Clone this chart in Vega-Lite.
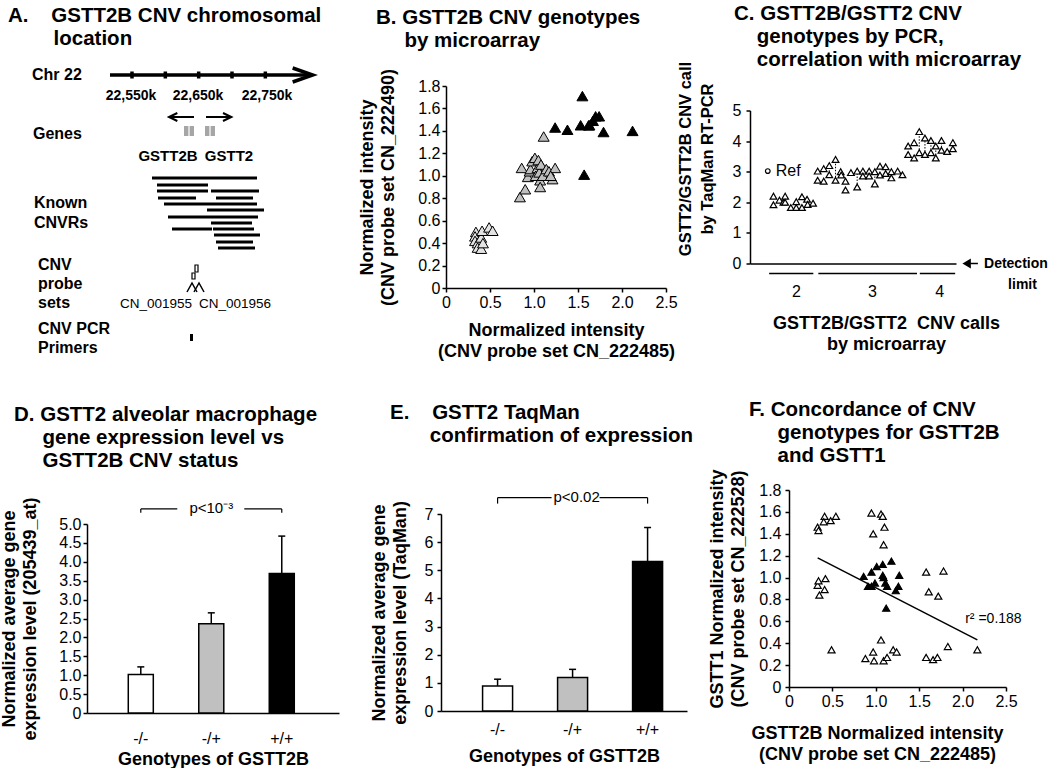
{
"$schema":"https://vega.github.io/schema/vega-lite/v6.json",
"background":"white",
"padding":{"left":0,"top":4,"right":0,"bottom":0},
"config":{
 "font":"Liberation Sans",
 "view":{"stroke":null},
 "axis":{"grid":false,"domainColor":"black","domainWidth":1.5,"tickColor":"black","tickWidth":1.5,"tickSize":4,"labelColor":"black","labelFont":"Liberation Sans","labelFontSize":16,"labelFlush":false,"labelOverlap":false,"titleColor":"black","titleFont":"Liberation Sans","titleFontSize":18,"titleFontWeight":"bold","titleLineHeight":21},
 "title":{"font":"Liberation Sans","fontSize":20.5,"fontWeight":"bold","lineHeight":23,"anchor":"start","frame":"group","color":"black"},
 "text":{"font":"Liberation Sans","color":"black"}
},
"datasets":{
 "aLab":[{"kb":22400,"y":1.4,"t":"Chr 22"},{"kb":22401.5,"y":7.3,"t":"Genes"},{"kb":22403,"y":14.2,"t":"Known"},{"kb":22403,"y":16.2,"t":"CNVRs"},{"kb":22409,"y":20.4,"t":"CNV"},{"kb":22409,"y":22.3,"t":"probe"},{"kb":22409,"y":24.2,"t":"sets"},{"kb":22409,"y":26.8,"t":"CNV PCR"},{"kb":22409,"y":28.7,"t":"Primers"}],
 "aCoord":[{"kb":22548.5,"y":3.5,"t":"22,550k"},{"kb":22649,"y":3.5,"t":"22,650k"},{"kb":22752.5,"y":3.5,"t":"22,750k"}],
 "aGene":[{"kb":22604,"y":9.5,"t":"GSTT2B"},{"kb":22695.5,"y":9.5,"t":"GSTT2"}],
 "aProbe":[{"kb":22532,"y":24.3,"t":"CN_001955"},{"kb":22650.5,"y":24.3,"t":"CN_001956"}],
 "aPath":[
  {"part":"chr","id":"shaft","o":1,"kb":22517,"y":1.4},{"part":"chr","id":"shaft","o":2,"kb":22818,"y":1.4},
  {"part":"chr","id":"head","o":1,"kb":22791,"y":0.7},{"part":"chr","id":"head","o":2,"kb":22821,"y":1.4},{"part":"chr","id":"head","o":3,"kb":22791,"y":2.1},
  {"part":"arrow","id":"L","o":1,"kb":22643,"y":5.6},{"part":"arrow","id":"L","o":2,"kb":22606,"y":5.6},
  {"part":"arrow","id":"Lh","o":1,"kb":22618,"y":5.2},{"part":"arrow","id":"Lh","o":2,"kb":22605.5,"y":5.6},{"part":"arrow","id":"Lh","o":3,"kb":22618,"y":6.0},
  {"part":"arrow","id":"R","o":1,"kb":22661,"y":5.6},{"part":"arrow","id":"R","o":2,"kb":22698,"y":5.6},
  {"part":"arrow","id":"Rh","o":1,"kb":22686.5,"y":5.2},{"part":"arrow","id":"Rh","o":2,"kb":22699,"y":5.6},{"part":"arrow","id":"Rh","o":3,"kb":22686.5,"y":6.0},
  {"part":"glyph","id":"g1","o":1,"kb":22632.5,"y":23.1},{"part":"glyph","id":"g1","o":2,"kb":22640,"y":22.2},{"part":"glyph","id":"g1","o":3,"kb":22647.5,"y":23.1},
  {"part":"glyph","id":"g2","o":1,"kb":22643,"y":23.1},{"part":"glyph","id":"g2","o":2,"kb":22650.5,"y":22.2},{"part":"glyph","id":"g2","o":3,"kb":22658,"y":23.1}
 ],
 "aTick":[{"kb":22550,"y":1.05,"y2":1.75},{"kb":22600,"y":1.05,"y2":1.75},{"kb":22650,"y":1.05,"y2":1.75},{"kb":22700,"y":1.05,"y2":1.75},{"kb":22750,"y":1.05,"y2":1.75}],
 "aCnvr":[
  {"kb":22580,"kb2":22737.5,"y":11.7},
  {"kb":22587.5,"kb2":22664,"y":12.4},
  {"kb":22587.5,"kb2":22664,"y":13.0},{"kb":22668.5,"kb2":22740.5,"y":13.0},
  {"kb":22589,"kb2":22646,"y":13.7},{"kb":22676,"kb2":22731.5,"y":13.7},
  {"kb":22598,"kb2":22737.5,"y":14.3},
  {"kb":22662.5,"kb2":22748,"y":14.9},
  {"kb":22604,"kb2":22739,"y":15.6},
  {"kb":22668.5,"kb2":22730,"y":16.2},
  {"kb":22610,"kb2":22670,"y":16.8},{"kb":22671.5,"kb2":22733,"y":16.8},
  {"kb":22673,"kb2":22742,"y":17.4},
  {"kb":22676,"kb2":22731.5,"y":18.1},
  {"kb":22679,"kb2":22734.5,"y":18.7}
 ],
 "aBox":[
  {"kind":"gene","kb":22628,"kb2":22643,"y":6.5,"y2":7.5},{"kind":"gene","kb":22659.5,"kb2":22674.5,"y":6.5,"y2":7.5},
  {"kind":"probe","kb":22644.5,"kb2":22649,"y":20.4,"y2":21.1},{"kind":"probe","kb":22640,"kb2":22644.5,"y":21.2,"y2":21.8},
  {"kind":"primer","kb":22637,"kb2":22641.5,"y":27.3,"y2":28.0}
 ],
 "aStripe":[{"kb":22635.5,"y":6.5,"y2":7.5},{"kb":22667,"y":6.5,"y2":7.5}],
 "bPts":[
  {"x":0.34,"y":0.50,"g":"low"},{"x":0.33,"y":0.46,"g":"low"},{"x":0.33,"y":0.42,"g":"low"},{"x":0.36,"y":0.40,"g":"low"},{"x":0.40,"y":0.45,"g":"low"},{"x":0.41,"y":0.51,"g":"low"},{"x":0.36,"y":0.36,"g":"low"},{"x":0.40,"y":0.35,"g":"low"},{"x":0.42,"y":0.40,"g":"low"},{"x":0.49,"y":0.54,"g":"low"},{"x":0.53,"y":0.51,"g":"low"},
  {"x":0.84,"y":0.81,"g":"mid"},{"x":0.90,"y":0.88,"g":"mid"},{"x":0.86,"y":1.07,"g":"mid"},{"x":0.93,"y":0.99,"g":"mid"},{"x":0.95,"y":1.04,"g":"mid"},{"x":0.96,"y":1.06,"g":"mid"},{"x":0.98,"y":1.13,"g":"mid"},{"x":1.01,"y":1.16,"g":"mid"},{"x":1.04,"y":1.07,"g":"mid"},{"x":1.05,"y":1.14,"g":"mid"},{"x":1.02,"y":1.00,"g":"mid"},{"x":1.06,"y":1.03,"g":"mid"},{"x":1.07,"y":0.96,"g":"mid"},{"x":1.07,"y":0.90,"g":"mid"},{"x":1.08,"y":1.10,"g":"mid"},{"x":1.10,"y":1.00,"g":"mid"},{"x":1.14,"y":1.06,"g":"mid"},{"x":1.17,"y":1.04,"g":"mid"},{"x":1.21,"y":0.97,"g":"mid"},{"x":1.24,"y":1.07,"g":"mid"},{"x":1.19,"y":1.00,"g":"mid"},{"x":1.11,"y":1.35,"g":"mid"},
  {"x":1.24,"y":1.43,"g":"high"},{"x":1.38,"y":1.41,"g":"high"},{"x":1.55,"y":1.71,"g":"high"},{"x":1.53,"y":1.45,"g":"high"},{"x":1.62,"y":1.45,"g":"high"},{"x":1.67,"y":1.49,"g":"high"},{"x":1.70,"y":1.53,"g":"high"},{"x":1.74,"y":1.53,"g":"high"},{"x":1.79,"y":1.39,"g":"high"},{"x":2.12,"y":1.40,"g":"high"},{"x":1.57,"y":1.01,"g":"high"},{"x":1.63,"y":1.45,"g":"high"}
 ],
 "cPts":[
  {"i":1.0,"y":2.2},{"i":1.0,"y":1.92},{"i":2.05,"y":2.07},{"i":2.75,"y":2.0},{"i":3.05,"y":2.2},{"i":3.05,"y":2.0},{"i":4.05,"y":1.83},{"i":5.0,"y":2.02},{"i":5.0,"y":1.83},{"i":6.0,"y":2.18},{"i":6.0,"y":1.83},{"i":6.9,"y":2.1},{"i":7.0,"y":1.93},{"i":7.95,"y":1.97},
  {"i":8.76,"y":3.02},{"i":8.76,"y":2.72},{"i":9.82,"y":3.1},{"i":9.82,"y":2.69},{"i":10.8,"y":3.2},{"i":10.8,"y":2.9},{"i":11.9,"y":3.4},{"i":11.9,"y":2.72},{"i":12.8,"y":3.0},{"i":12.9,"y":2.89},{"i":13.65,"y":2.69},{"i":13.65,"y":2.4},{"i":14.6,"y":2.97},{"i":15.7,"y":3.02},{"i":15.7,"y":2.5},{"i":16.7,"y":3.02},{"i":16.7,"y":2.86},{"i":17.8,"y":3.02},{"i":17.8,"y":2.86},{"i":18.8,"y":3.0},{"i":18.8,"y":2.6},{"i":19.7,"y":3.18},{"i":19.7,"y":2.89},{"i":20.7,"y":3.16},{"i":20.7,"y":2.94},{"i":21.7,"y":3.0},{"i":21.7,"y":2.8},{"i":22.8,"y":3.02},{"i":23.65,"y":2.9},
  {"i":24.65,"y":3.84},{"i":24.65,"y":3.56},{"i":25.7,"y":3.95},{"i":25.7,"y":3.45},{"i":26.6,"y":4.31},{"i":26.6,"y":3.62},{"i":27.6,"y":4.1},{"i":27.6,"y":3.56},{"i":28.65,"y":4.02},{"i":28.65,"y":3.62},{"i":29.5,"y":3.84},{"i":29.5,"y":3.45},{"i":30.5,"y":4.02},{"i":30.5,"y":3.7},{"i":31.5,"y":3.66},{"i":32.5,"y":3.95},{"i":32.5,"y":3.75}
 ],
 "cRef":[{"i":0,"y":3.02}],
 "cRefT":[{"i":1.4,"y":3.02,"t":"Ref"}],
 "cDots":[{"i":3.05,"y":2.0,"y2":2.2},{"i":10.8,"y":2.9,"y2":3.2},{"i":11.9,"y":2.72,"y2":3.4},{"i":12.85,"y":2.89,"y2":3.0},{"i":15.7,"y":2.5,"y2":3.02},{"i":18.8,"y":2.6,"y2":3.0},{"i":26.6,"y":3.62,"y2":4.31},{"i":27.6,"y":3.56,"y2":4.1},{"i":28.65,"y":3.62,"y2":4.02},{"i":29.5,"y":3.45,"y2":3.84},{"i":30.5,"y":3.7,"y2":4.02},{"i":32.5,"y":3.75,"y2":3.95}],
 "cUnder":[{"i":0.24,"i2":8.0,"y":-0.33},{"i":8.88,"i2":26.2,"y":-0.33},{"i":26.7,"i2":32.9,"y":-0.33}],
 "cArrow":[{"i":35.3,"i2":36.9,"y":0}],
 "cArrowHead":[{"i":35.0,"y":0}],
 "cDet":[{"i":37.97,"y":0,"t":"Detection"},{"i":42.2,"y":-0.69,"t":"limit"}],
 "dBars":[{"g":"-/-","v":1.02,"hi":1.22},{"g":"-/+","v":2.36,"hi":2.65},{"g":"+/+","v":3.69,"hi":4.68}],
 "dCaps":[{"g":"-/-","v":1.22},{"g":"-/+","v":2.65},{"g":"+/+","v":4.68}],
 "dBrL":[{"g":"-/-","g2":"-/+","v":5.4}],
 "dBrR":[{"g":"-/+","g2":"+/+","v":5.4}],
 "dBrT":[{"g":"-/-","v":5.4,"v2":5.3},{"g":"+/+","v":5.4,"v2":5.3}],
 "dP":[{"g":"-/+","v":5.43,"t":"p<10\u207b\u00b3"}],
 "eBars":[{"g":"-/-","v":0.89,"hi":1.13},{"g":"-/+","v":1.19,"hi":1.48},{"g":"+/+","v":5.31,"hi":6.52}],
 "eCaps":[{"g":"-/-","v":1.13},{"g":"-/+","v":1.48},{"g":"+/+","v":6.52}],
 "eBrL":[{"g":"-/-","g2":"-/+","v":7.58}],
 "eBrR":[{"g":"-/+","g2":"+/+","v":7.58}],
 "eBrT":[{"g":"-/-","v":7.58,"v2":7.37},{"g":"+/+","v":7.58,"v2":7.37}],
 "eP":[{"g":"-/+","v":7.6,"t":"p<0.02"}],
 "fPts":[
  {"x":0.33,"y":1.46,"g":"neg"},{"x":0.34,"y":1.43,"g":"neg"},{"x":0.41,"y":1.56,"g":"neg"},{"x":0.40,"y":1.51,"g":"neg"},{"x":0.48,"y":1.52,"g":"neg"},{"x":0.54,"y":1.56,"g":"neg"},
  {"x":0.33,"y":0.93,"g":"neg"},{"x":0.34,"y":0.97,"g":"neg"},{"x":0.35,"y":0.84,"g":"neg"},{"x":0.41,"y":0.89,"g":"neg"},{"x":0.42,"y":0.99,"g":"neg"},
  {"x":0.49,"y":0.34,"g":"neg"},
  {"x":0.95,"y":1.59,"g":"neg"},{"x":0.97,"y":1.40,"g":"neg"},{"x":1.06,"y":1.58,"g":"neg"},{"x":1.08,"y":1.56,"g":"neg"},{"x":1.10,"y":1.46,"g":"neg"},{"x":1.09,"y":1.30,"g":"neg"},
  {"x":1.06,"y":0.43,"g":"neg"},
  {"x":0.88,"y":0.26,"g":"neg"},{"x":0.97,"y":0.32,"g":"neg"},{"x":0.98,"y":0.24,"g":"neg"},{"x":1.09,"y":0.24,"g":"neg"},{"x":1.13,"y":0.27,"g":"neg"},{"x":1.20,"y":0.34,"g":"neg"},{"x":1.24,"y":0.32,"g":"neg"},
  {"x":1.58,"y":1.05,"g":"neg"},{"x":1.61,"y":0.87,"g":"neg"},{"x":1.72,"y":0.83,"g":"neg"},{"x":1.78,"y":1.06,"g":"neg"},
  {"x":1.58,"y":0.27,"g":"neg"},{"x":1.66,"y":0.25,"g":"neg"},{"x":1.71,"y":0.27,"g":"neg"},{"x":1.83,"y":0.37,"g":"neg"},{"x":2.17,"y":0.34,"g":"neg"},
  {"x":0.86,"y":1.01,"g":"pos"},{"x":0.91,"y":0.92,"g":"pos"},{"x":0.95,"y":0.92,"g":"pos"},{"x":0.99,"y":0.95,"g":"pos"},{"x":0.95,"y":1.05,"g":"pos"},{"x":1.01,"y":1.10,"g":"pos"},{"x":1.08,"y":1.12,"g":"pos"},{"x":1.18,"y":1.15,"g":"pos"},{"x":1.08,"y":1.02,"g":"pos"},{"x":1.09,"y":1.00,"g":"pos"},{"x":1.11,"y":0.95,"g":"pos"},{"x":1.13,"y":0.92,"g":"pos"},{"x":1.12,"y":0.72,"g":"pos"},{"x":1.23,"y":0.88,"g":"pos"},{"x":1.26,"y":0.92,"g":"pos"},{"x":1.27,"y":1.02,"g":"pos"}
 ],
 "fReg":[{"x":0.33,"y":1.18,"x2":2.17,"y2":0.43}],
 "fTxt":[{"x":2.03,"y":0.62,"t":"r\u00b2 =0.188"}]
},
"spacing":40,
"vconcat":[
 {"hconcat":[
  {
   "width":275,"height":202,
   "title":{"text":["A.\u00a0\u00a0\u00a0\u00a0GSTT2B CNV chromosomal","\u200b\u00a0\u00a0\u00a0\u00a0\u00a0\u00a0\u00a0\u00a0location"],"dx":-79,"offset":12},
   "encoding":{
    "x":{"field":"kb","type":"quantitative","scale":{"domain":[22482.5,22895],"nice":false,"zero":false},"axis":null},
    "y":{"field":"y","type":"quantitative","scale":{"domain":[2.5,22.7],"nice":false,"zero":false,"reverse":true},"axis":null}
   },
   "layer":[
    {"data":{"name":"aCnvr"},"mark":{"type":"rule","strokeWidth":3,"color":"black"},"encoding":{"x2":{"field":"kb2"}}},
    {"data":{"name":"aTick"},"mark":{"type":"rule","strokeWidth":3.5,"color":"black"},"encoding":{"y2":{"field":"y2"}}},
    {"data":{"name":"aPath"},"transform":[{"filter":"datum.part === 'chr'"}],"mark":{"type":"line","strokeWidth":3.5,"color":"black","strokeJoin":"miter"},"encoding":{"detail":{"field":"id"},"order":{"field":"o"}}},
    {"data":{"name":"aPath"},"transform":[{"filter":"datum.part === 'arrow'"}],"mark":{"type":"line","strokeWidth":2,"color":"black","strokeJoin":"miter"},"encoding":{"detail":{"field":"id"},"order":{"field":"o"}}},
    {"data":{"name":"aPath"},"transform":[{"filter":"datum.part === 'glyph'"}],"mark":{"type":"line","strokeWidth":1.5,"color":"black"},"encoding":{"detail":{"field":"id"},"order":{"field":"o"}}},
    {"data":{"name":"aBox"},"transform":[{"filter":"datum.kind === 'gene'"}],"mark":{"type":"rect","fill":"#a6a6a6"},"encoding":{"x2":{"field":"kb2"},"y2":{"field":"y2"}}},
    {"data":{"name":"aStripe"},"mark":{"type":"rule","strokeWidth":1.2,"color":"white"},"encoding":{"y2":{"field":"y2"}}},
    {"data":{"name":"aBox"},"transform":[{"filter":"datum.kind === 'probe'"}],"mark":{"type":"rect","fill":"white","stroke":"black","strokeWidth":1.2},"encoding":{"x2":{"field":"kb2"},"y2":{"field":"y2"}}},
    {"data":{"name":"aBox"},"transform":[{"filter":"datum.kind === 'primer'"}],"mark":{"type":"rect","fill":"black"},"encoding":{"x2":{"field":"kb2"},"y2":{"field":"y2"}}},
    {"data":{"name":"aLab"},"mark":{"type":"text","align":"left","baseline":"middle","fontSize":16,"fontWeight":"bold"},"encoding":{"text":{"field":"t"}}},
    {"data":{"name":"aCoord"},"mark":{"type":"text","align":"center","baseline":"middle","fontSize":14,"fontWeight":"bold"},"encoding":{"text":{"field":"t"}}},
    {"data":{"name":"aGene"},"mark":{"type":"text","align":"center","baseline":"middle","fontSize":15,"fontWeight":"bold"},"encoding":{"text":{"field":"t"}}},
    {"data":{"name":"aProbe"},"mark":{"type":"text","align":"left","baseline":"middle","fontSize":13.5},"encoding":{"text":{"field":"t"}}}
   ]
  },
  {
   "width":220,"height":202,
   "title":{"text":["B. GSTT2B CNV genotypes","\u200b\u00a0\u00a0\u00a0\u00a0\u00a0by microarray"],"dx":-70,"offset":16.5},
   "data":{"name":"bPts"},
   "encoding":{
    "x":{"field":"x","type":"quantitative","scale":{"domain":[0,2.5],"nice":false},"axis":{"title":["Normalized intensity","(CNV probe set CN_222485)"],"values":[0,0.5,1,1.5,2,2.5],"labelExpr":"datum.value === 0 ? '0' : format(datum.value, '.1f')","labelPadding":2,"titlePadding":11}},
    "y":{"field":"y","type":"quantitative","scale":{"domain":[0,1.8],"nice":false},"axis":{"title":["Normalized intensity","(CNV probe set CN_222490)"],"values":[0,0.2,0.4,0.6,0.8,1,1.2,1.4,1.6,1.8],"labelExpr":"datum.value === 0 ? '0' : format(datum.value, '.1f')","labelPadding":2,"titlePadding":20.5}}
   },
   "layer":[
    {"transform":[{"filter":"datum.g === 'low'"}],"mark":{"type":"point","shape":"triangle-up","filled":true,"fill":"#e3e3e3","size":120,"stroke":"black","strokeWidth":1,"opacity":1}},
    {"transform":[{"filter":"datum.g === 'mid'"}],"mark":{"type":"point","shape":"triangle-up","filled":true,"fill":"#bfbfbf","size":120,"stroke":"black","strokeWidth":1,"opacity":1}},
    {"transform":[{"filter":"datum.g === 'high'"}],"mark":{"type":"point","shape":"triangle-up","filled":true,"fill":"black","size":120,"stroke":"black","strokeWidth":1,"opacity":1}}
   ]
  },
  {
   "width":206,"height":153,
   "title":{"text":["C. GSTT2B/GSTT2 CNV","\u200b\u00a0\u00a0\u00a0\u00a0genotypes by PCR,","\u200b\u00a0\u00a0\u00a0\u00a0correlation with microarray"],"dx":-16,"offset":-9.5},
   "encoding":{
    "x":{"field":"i","type":"quantitative","scale":{"domain":[-3.12,33.05],"nice":false,"zero":false},"axis":{"title":["GSTT2B/GSTT2\u00a0\u00a0CNV calls","by microarray"],"values":[4.95,18.3,30.1],"labelExpr":"datum.value < 10 ? '2' : datum.value < 25 ? '3' : '4'","ticks":false,"labelPadding":20,"titlePadding":15,"titleX":136}},
    "y":{"field":"y","type":"quantitative","scale":{"domain":[0,5],"nice":false},"axis":{"title":["GSTT2/GSTT2B CNV call","by TaqMan RT-PCR"],"values":[0,1,2,3,4,5],"labelPadding":5,"titlePadding":16.5,"titleFontSize":16.5,"titleLineHeight":22,"titleY":48}}
   },
   "layer":[
    {"data":{"name":"cDots"},"mark":{"type":"rule","strokeDash":[1.5,1.5],"strokeWidth":1,"color":"black"},"encoding":{"y2":{"field":"y2"}}},
    {"data":{"name":"cUnder"},"mark":{"type":"rule","strokeWidth":1.5,"color":"black"},"encoding":{"x2":{"field":"i2"}}},
    {"data":{"name":"cPts"},"mark":{"type":"point","shape":"triangle-up","filled":true,"fill":"white","stroke":"black","strokeWidth":1.2,"size":45,"opacity":1}},
    {"data":{"name":"cRef"},"mark":{"type":"point","shape":"circle","filled":true,"fill":"white","stroke":"black","strokeWidth":1.2,"size":22,"opacity":1}},
    {"data":{"name":"cRefT"},"mark":{"type":"text","align":"left","baseline":"middle","fontSize":16},"encoding":{"text":{"field":"t"}}},
    {"data":{"name":"cArrow"},"mark":{"type":"rule","strokeWidth":1.5,"color":"black"},"encoding":{"x2":{"field":"i2"}}},
    {"data":{"name":"cArrowHead"},"mark":{"type":"point","shape":"triangle-left","filled":true,"fill":"black","stroke":"black","size":40,"opacity":1}},
    {"data":{"name":"cDet"},"mark":{"type":"text","align":"left","baseline":"middle","fontSize":14,"fontWeight":"bold"},"encoding":{"text":{"field":"t"}}}
   ]
  }
 ],"spacing":84,"bounds":"flush","center":true},
 {"hconcat":[
  {
   "width":252,"height":223,
   "title":{"text":["D. GSTT2 alveolar macrophage","\u200b\u00a0\u00a0\u00a0\u00a0\u00a0gene expression level vs","\u200b\u00a0\u00a0\u00a0\u00a0\u00a0GSTT2B CNV status"],"dx":-73,"offset":19},
   "encoding":{
    "x":{"field":"g","type":"nominal","sort":["-/-","-/+","+/+"],"scale":{"paddingInner":0.645,"paddingOuter":0.61,"align":0.48},"axis":{"title":"Genotypes of GSTT2B","labelAngle":0,"ticks":false,"labelPadding":17,"titlePadding":4}},
    "y":{"field":"v","type":"quantitative","scale":{"domain":[0,5],"nice":false,"range":[223,34]},"axis":{"title":["Normalized average gene","expression level (205439_at)"],"values":[0,0.5,1,1.5,2,2.5,3,3.5,4,4.5,5],"labelExpr":"datum.value === 0 ? '0' : format(datum.value, '.1f')","labelPadding":2,"titlePadding":19}}
   },
   "layer":[
    {"data":{"name":"dBars"},"transform":[{"filter":"datum.g === '-/-'"}],"mark":{"type":"bar","fill":"white","stroke":"black","strokeWidth":1.5}},
    {"data":{"name":"dBars"},"transform":[{"filter":"datum.g === '-/+'"}],"mark":{"type":"bar","fill":"#c0c0c0","stroke":"black","strokeWidth":1.5}},
    {"data":{"name":"dBars"},"transform":[{"filter":"datum.g === '+/+'"}],"mark":{"type":"bar","fill":"black","stroke":"black","strokeWidth":1.5}},
    {"data":{"name":"dBars"},"mark":{"type":"rule","strokeWidth":1.5,"color":"black"},"encoding":{"y2":{"field":"hi"}}},
    {"data":{"name":"dCaps"},"mark":{"type":"tick","thickness":1.5,"size":7,"color":"black","opacity":1}},
    {"data":{"name":"dBrL"},"mark":{"type":"rule","strokeWidth":1.2,"color":"black","x2Offset":-34},"encoding":{"x2":{"field":"g2"}}},
    {"data":{"name":"dBrR"},"mark":{"type":"rule","strokeWidth":1.2,"color":"black","xOffset":33},"encoding":{"x2":{"field":"g2"}}},
    {"data":{"name":"dBrT"},"mark":{"type":"rule","strokeWidth":1.2,"color":"black"},"encoding":{"y2":{"field":"v2"}}},
    {"data":{"name":"dP"},"mark":{"type":"text","fontSize":15,"baseline":"middle","align":"center"},"encoding":{"text":{"field":"t"}}}
   ]
  },
  {
   "width":246,"height":221,
   "title":{"text":["E.\u00a0\u00a0\u00a0\u00a0GSTT2 TaqMan","\u200b\u00a0\u00a0\u00a0\u00a0\u00a0\u00a0\u00a0confirmation of expression"],"dx":-51,"offset":44},
   "encoding":{
    "x":{"field":"g","type":"nominal","sort":["-/-","-/+","+/+"],"scale":{"paddingInner":0.6,"paddingOuter":0.44,"align":0.63},"axis":{"title":"Genotypes of GSTT2B","labelAngle":0,"ticks":false,"labelPadding":10,"titlePadding":10}},
    "y":{"field":"v","type":"quantitative","scale":{"domain":[0,7],"nice":false,"range":[221,24]},"axis":{"title":["Normalized average gene","expression level (TaqMan)"],"values":[0,1,2,3,4,5,6,7],"labelPadding":4,"titlePadding":15}}
   },
   "layer":[
    {"data":{"name":"eBars"},"transform":[{"filter":"datum.g === '-/-'"}],"mark":{"type":"bar","fill":"white","stroke":"black","strokeWidth":1.5}},
    {"data":{"name":"eBars"},"transform":[{"filter":"datum.g === '-/+'"}],"mark":{"type":"bar","fill":"#c0c0c0","stroke":"black","strokeWidth":1.5}},
    {"data":{"name":"eBars"},"transform":[{"filter":"datum.g === '+/+'"}],"mark":{"type":"bar","fill":"black","stroke":"black","strokeWidth":1.5}},
    {"data":{"name":"eBars"},"mark":{"type":"rule","strokeWidth":1.5,"color":"black"},"encoding":{"y2":{"field":"hi"}}},
    {"data":{"name":"eCaps"},"mark":{"type":"tick","thickness":1.5,"size":7,"color":"black","opacity":1}},
    {"data":{"name":"eBrL"},"mark":{"type":"rule","strokeWidth":1.2,"color":"black","x2Offset":-21},"encoding":{"x2":{"field":"g2"}}},
    {"data":{"name":"eBrR"},"mark":{"type":"rule","strokeWidth":1.2,"color":"black","xOffset":27},"encoding":{"x2":{"field":"g2"}}},
    {"data":{"name":"eBrT"},"mark":{"type":"rule","strokeWidth":1.2,"color":"black"},"encoding":{"y2":{"field":"v2"}}},
    {"data":{"name":"eP"},"mark":{"type":"text","fontSize":15,"baseline":"middle","align":"center","dx":4},"encoding":{"text":{"field":"t"}}}
   ]
  },
  {
   "width":217,"height":197,
   "title":{"text":["F. Concordance of CNV","\u200b\u00a0\u00a0\u00a0\u00a0\u00a0genotypes for GSTT2B","\u200b\u00a0\u00a0\u00a0\u00a0\u00a0and GSTT1"],"dx":-40,"offset":2},
   "encoding":{
    "x":{"field":"x","type":"quantitative","scale":{"domain":[0,2.5],"nice":false},"axis":{"title":["GSTT2B Normalized intensity","(CNV probe set CN_222485)"],"values":[0,0.5,1,1.5,2,2.5],"labelExpr":"datum.value === 0 ? '0' : format(datum.value, '.1f')","labelPadding":2,"titlePadding":15,"titleX":88}},
    "y":{"field":"y","type":"quantitative","scale":{"domain":[0,1.8],"nice":false},"axis":{"title":["GSTT1 Normalized intensity","(CNV probe set CN_222528)"],"values":[0,0.2,0.4,0.6,0.8,1,1.2,1.4,1.6,1.8],"labelExpr":"datum.value === 0 ? '0' : format(datum.value, '.1f')","labelPadding":4,"titlePadding":11}}
   },
   "layer":[
    {"data":{"name":"fReg"},"mark":{"type":"rule","strokeWidth":1.5,"color":"black"},"encoding":{"x2":{"field":"x2"},"y2":{"field":"y2"}}},
    {"data":{"name":"fPts"},"transform":[{"filter":"datum.g === 'neg'"}],"mark":{"type":"point","shape":"triangle-up","filled":true,"fill":"white","stroke":"black","strokeWidth":1.2,"size":50,"opacity":1}},
    {"data":{"name":"fPts"},"transform":[{"filter":"datum.g === 'pos'"}],"mark":{"type":"point","shape":"triangle-up","filled":true,"fill":"black","stroke":"black","strokeWidth":1.2,"size":50,"opacity":1}},
    {"data":{"name":"fTxt"},"mark":{"type":"text","align":"left","baseline":"middle","fontSize":14},"encoding":{"text":{"field":"t"}}}
   ]
  }
 ],"spacing":102,"bounds":"flush"}
]
}
